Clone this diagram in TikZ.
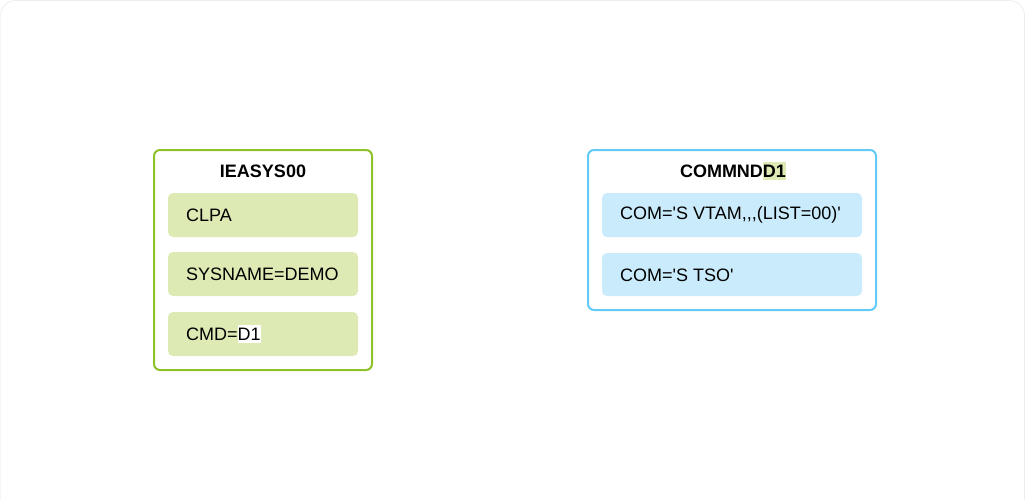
\documentclass[tikz,border=0pt]{standalone}
\usepackage{fontspec}
\setmainfont{Liberation Sans}[Ligatures=TeXOff]
\usetikzlibrary{positioning}
\definecolor{grnline}{HTML}{8DC22A}
\definecolor{grnfill}{HTML}{DEEAB4}
\definecolor{bluline}{HTML}{62CBF7}
\definecolor{blufill}{HTML}{CAEBFB}
\definecolor{frameline}{HTML}{E2E2E2}

\begin{document}
\begin{tikzpicture}[x=1pt,y=-1pt,
    grpbox/.style={line width=2pt,rounded corners=6pt},
    itembox/.style={rounded corners=5pt,draw=none},
    itemtext/.style={anchor=west,inner sep=0pt,font=\fontsize{18}{21}\selectfont},
    titletext/.style={inner sep=0pt,font=\bfseries\fontsize{18}{21}\selectfont}]
        % page frame
        \useasboundingbox (0,0) rectangle (1025,500);
        \begin{scope}
            \clip (0,0) rectangle (1025,500);
            \draw[frameline,rounded corners=14pt] (0.7,0.7) rectangle (1024.3,540);
        \end{scope}

        % IEASYS00 member
        \draw[grpbox,draw=grnline,fill=white] (154,150) rectangle (372,370);
        \node[titletext] (sysT) at (263,171) {IEASYS00};
        \fill[itembox,grnfill] (168,193) rectangle (358,237);
        \fill[itembox,grnfill] (168,252) rectangle (358,296);
        \fill[itembox,grnfill] (168,312) rectangle (358,356);
        \node[itemtext] (clpa) at (186,215) {CLPA};
        \node[itemtext] (sysname) at (186,274) {SYSNAME=DEMO};
        \node[itemtext] (cmd) at (186,334) {CMD=\colorbox{white}{\hspace*{-\fboxsep}D1\hspace*{-\fboxsep}}};

        % COMMNDD1 member
        \draw[grpbox,draw=bluline,fill=white] (588,150) rectangle (876,310);
        \node[titletext] (comT) at (733,171) {COMMND\colorbox{grnfill}{\hspace*{-\fboxsep}D1\hspace*{-\fboxsep}}};
        \fill[itembox,blufill] (602,193) rectangle (862,237);
        \fill[itembox,blufill] (602,253) rectangle (862,296);
        \node[itemtext] (vtam) at (620,215) {COM='S VTAM,,,(LIST=00)'};
        \node[itemtext] (tso) at (620,275) {COM='S TSO'};
    \end{tikzpicture}
\end{document}
